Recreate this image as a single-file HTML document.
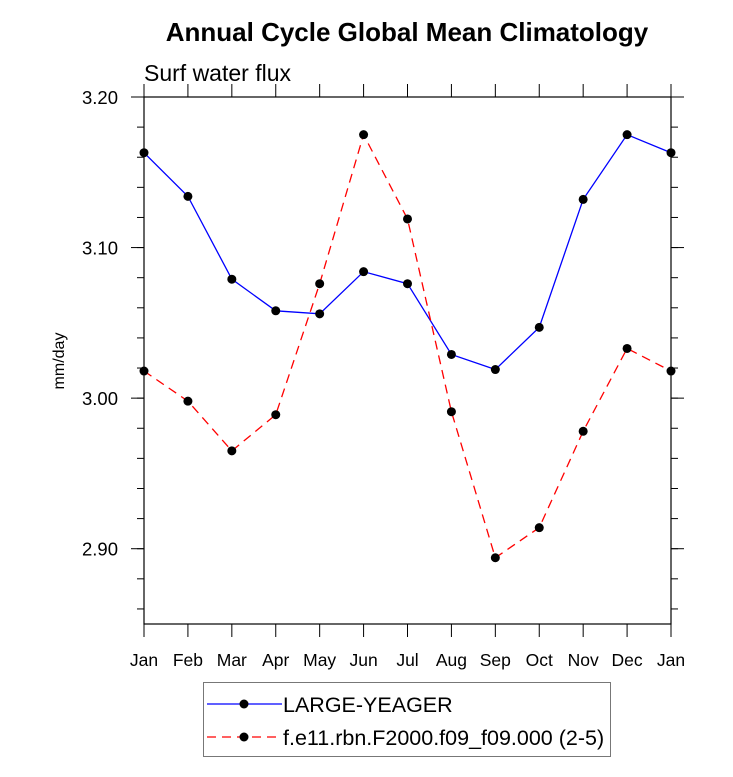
<!DOCTYPE html>
<html><head><meta charset="utf-8"><style>body{margin:0;background:#fff}svg{display:block;font-family:"Liberation Sans",Arial,sans-serif}</style></head>
<body>
<svg id="chart" width="733" height="777" viewBox="0 0 733 777">
<text x="407" y="41" text-anchor="middle" font-size="26" font-weight="bold">Annual Cycle Global Mean Climatology</text>
<text x="144" y="81" font-size="23">Surf water flux</text>
<text transform="translate(64,361) rotate(-90)" text-anchor="middle" font-size="16">mm/day</text>
<g id="axes"></g>
<g id="series"></g>
<g>
<rect x="203.5" y="682.5" width="407" height="74" fill="none" stroke="#777"/>
<g>
<line x1="207" y1="704" x2="282" y2="704" stroke="#00f" stroke-width="1.3"/>
<circle cx="244" cy="704" r="4.5" fill="#000"/>
<text x="283" y="712" font-size="21.5">LARGE-YEAGER</text></g>
<g>
<line x1="207" y1="737" x2="282" y2="737" stroke="#f00" stroke-width="1.3" stroke-dasharray="9,6"/>
<circle cx="244" cy="737" r="4.5" fill="#000"/>
<text x="283" y="745" font-size="21.5">f.e11.rbn.F2000.f09_f09.000 (2-5)</text></g>
</g>
</svg>
<script>
const months=["Jan","Feb","Mar","Apr","May","Jun","Jul","Aug","Sep","Oct","Nov","Dec","Jan"];
const largeYeager=[3.163,3.134,3.079,3.058,3.056,3.084,3.076,3.029,3.019,3.047,3.132,3.175,3.163];
const fe11=[3.018,2.998,2.965,2.989,3.076,3.175,3.119,2.991,2.894,2.914,2.978,3.033,3.018];
const yTicks=["2.90","3.00","3.10","3.20"];
const NS="http://www.w3.org/2000/svg";
const X0=144,X1=671,Y0=624,Y1=97,ymin=2.85,ymax=3.20;
function xs(i){return X0+(X1-X0)*i/(months.length-1);}
function ys(v){return Y0-(v-ymin)/(ymax-ymin)*(Y0-Y1);}
function mk(tag,attrs,parent){const e=document.createElementNS(NS,tag);for(const k in attrs)e.setAttribute(k,attrs[k]);parent.appendChild(e);return e;}
const ax=document.getElementById('axes');
const frame=mk('rect',{x:X0,y:Y1,width:X1-X0,height:Y0-Y1,fill:'none',stroke:'#000','stroke-width':1.2},ax);


months.forEach((m,i)=>{
 const x=xs(i);
 mk('line',{x1:x,y1:Y0,x2:x,y2:Y0+13,stroke:'#000'},ax);
 mk('line',{x1:x,y1:Y1,x2:x,y2:Y1-13,stroke:'#000'},ax);
 const t=mk('text',{x:x,y:Y0+42,'text-anchor':'middle','font-size':17.5},ax);
 t.textContent=m;
 
 
});
for(let k=0;k<=17;k++){
 const v=ymin+k*0.02+0.01; if(v>ymax+1e-9)break;
 const y=ys(v);
 mk('line',{x1:X0,y1:y,x2:X0-7,y2:y,stroke:'#000'},ax);
 mk('line',{x1:X1,y1:y,x2:X1+7,y2:y,stroke:'#000'},ax);
}
yTicks.forEach(s=>{
 const y=ys(parseFloat(s));
 mk('line',{x1:X0,y1:y,x2:X0-13,y2:y,stroke:'#000'},ax);
 mk('line',{x1:X1,y1:y,x2:X1+13,y2:y,stroke:'#000'},ax);
 const t=mk('text',{x:X0-26,y:y+7,'text-anchor':'end','font-size':18.5},ax);
 t.textContent=s;
 
 
});
const sg=document.getElementById('series');
function series(vals,color,dash,name){
 const g=mk('g',{},sg);
 
 
 const p=mk('polyline',{points:vals.map((v,i)=>xs(i)+','+ys(v)).join(' '),fill:'none',stroke:color,'stroke-width':1.3},g);
 if(dash)p.setAttribute('stroke-dasharray',dash);
 vals.forEach((v,i)=>{
  const c=mk('circle',{cx:xs(i),cy:ys(v),r:4.5,fill:'#000'},g);
  
  
 });
}
series(largeYeager,'#00f',null,'series-large-yeager');
series(fe11,'#f00','9,6','series-f-e11');
</script>
</body></html>
